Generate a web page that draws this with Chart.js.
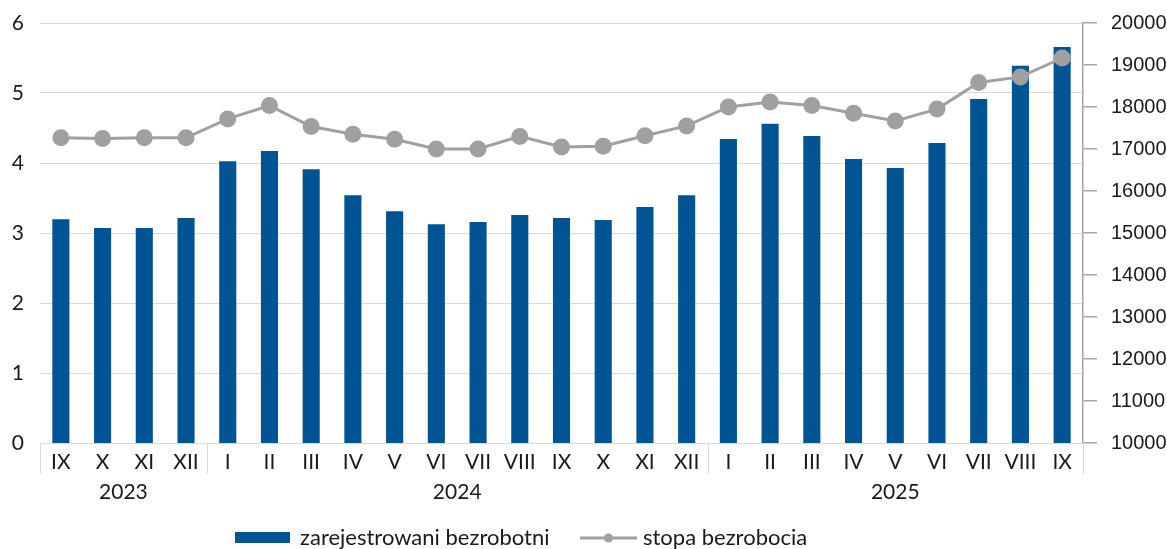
<!DOCTYPE html>
<html><head><meta charset="utf-8">
<script src="https://cdn.jsdelivr.net/npm/chart.js@4/dist/chart.umd.min.js"></script>
<style>html,body{margin:0;padding:0;background:#fff;}</style>
</head><body>
<canvas id="c" width="1167" height="549"></canvas>
<script>
const months = ['IX','X','XI','XII','I','II','III','IV','V','VI','VII','VIII','IX','X','XI','XII','I','II','III','IV','V','VI','VII','VIII','IX'];
const years = ['2023','2023','2023','2023',
  '2024','2024','2024','2024','2024','2024','2024','2024','2024','2024','2024','2024',
  '2025','2025','2025','2025','2025','2025','2025','2025','2025'];
const registered = [15330,15120,15120,15360,16710,16950,16520,15900,15520,15210,15260,15430,15360,15310,15620,15900,17240,17600,17310,16760,16550,17140,18190,18980,19430];
const rate = [4.36,4.35,4.36,4.36,4.63,4.82,4.52,4.41,4.34,4.20,4.20,4.38,4.23,4.24,4.39,4.53,4.80,4.87,4.82,4.71,4.60,4.77,5.15,5.23,5.50];
const leftTicks = [0,1,2,3,4,5,6];
const rightTicks = [10000,11000,12000,13000,14000,15000,16000,17000,18000,19000,20000];
const seriesLabels = ['zarejestrowani bezrobotni','stopa bezrobocia'];

const BLUE = '#005493', GREY = '#a0a0a0', GRID = '#d9d9d9', TXT = '#1a1a1a';
const FONT = 'Lato';

const overlay = {
  id: 'overlay',
  afterDraw(chart) {
    const ctx = chart.ctx, x = chart.scales.x, area = chart.chartArea;
    const px = i => x.getPixelForValue(i);
    const groups = [];
    years.forEach((y, i) => {
      if (!groups.length || groups[groups.length-1].year !== y) groups.push({year: y, start: i, end: i});
      else groups[groups.length-1].end = i;
    });
    ctx.save();
    ctx.strokeStyle = GRID; ctx.lineWidth = 1;
    const bounds = [];
    groups.forEach((g, k) => {
      const left = g.start === 0 ? area.left : (px(g.start-1) + px(g.start)) / 2;
      const right = g.end === years.length-1 ? area.right : (px(g.end) + px(g.end+1)) / 2;
      bounds.push(left); if (k === groups.length-1) bounds.push(right);
      ctx.fillStyle = TXT; ctx.font = '21px ' + FONT; ctx.textAlign = 'center'; ctx.textBaseline = 'middle';
      ctx.fillText(g.year, (left + right) / 2, area.bottom + 49);
    });
    bounds.forEach(b => {
      const xx = Math.round(b) + 0.5;
      ctx.beginPath(); ctx.moveTo(xx, area.bottom); ctx.lineTo(xx, area.bottom + 31); ctx.stroke();
    });
    const ly = 538;
    ctx.fillStyle = BLUE; ctx.fillRect(235, 532, 55, 11);
    ctx.fillStyle = TXT; ctx.font = '22px ' + FONT; ctx.textAlign = 'left'; ctx.textBaseline = 'middle';
    ctx.fillText(seriesLabels[0], 300, ly);
    ctx.strokeStyle = GREY; ctx.lineWidth = 3;
    ctx.beginPath(); ctx.moveTo(580, ly); ctx.lineTo(637, ly); ctx.stroke();
    ctx.fillStyle = GREY; ctx.beginPath(); ctx.arc(608.5, ly, 4.5, 0, Math.PI*2); ctx.fill();
    ctx.fillStyle = TXT;
    ctx.fillText(seriesLabels[1], 643, ly);
    ctx.restore();
  }
};

const fixV = w => s => { s.width = w; s.paddingTop = 0; s.paddingBottom = 0; };

new Chart(document.getElementById('c'), {
  data: {
    labels: months,
    datasets: [
      { type: 'line', label: seriesLabels[1], data: rate, yAxisID: 'y', order: 0,
        borderColor: GREY, borderWidth: 3, pointRadius: 8.5, pointBackgroundColor: GREY,
        pointBorderWidth: 0, tension: 0 },
      { type: 'bar', label: seriesLabels[0], data: registered, yAxisID: 'yR', order: 1,
        backgroundColor: BLUE, barPercentage: 0.41, categoryPercentage: 1.0 }
    ]
  },
  options: {
    responsive: false, animation: false, devicePixelRatio: 1,
    layout: { padding: { top: 23, left: 0, right: 0, bottom: 0 } },
    plugins: { legend: { display: false }, tooltip: { enabled: false } },
    scales: {
      x: {
        offset: true,
        grid: { display: false, drawTicks: false },
        border: { display: false },
        ticks: { color: TXT, font: { family: FONT, size: 21 }, padding: 7, maxRotation: 0, autoSkip: false },
        afterFit: s => { s.height = 106; s.paddingLeft = 0; s.paddingRight = 0; }
      },
      y: {
        position: 'left', min: leftTicks[0], max: leftTicks[leftTicks.length-1],
        afterBuildTicks: s => { s.ticks = leftTicks.map(v => ({ value: v })); },
        grid: { color: GRID, lineWidth: 1, drawTicks: false },
        border: { display: false },
        ticks: { color: TXT, font: { family: FONT, size: 21 }, padding: 16 },
        afterFit: fixV(40)
      },
      yR: {
        position: 'right', min: rightTicks[0], max: rightTicks[rightTicks.length-1],
        afterBuildTicks: s => { s.ticks = rightTicks.map(v => ({ value: v })); },
        grid: { drawOnChartArea: false, color: '#a6a6a6', tickLength: 14, lineWidth: 1.5 },
        border: { display: true, color: '#a6a6a6', width: 1.5 },
        ticks: { color: TXT, font: { family: 'Liberation Sans', size: 20 }, padding: 14,
          callback: v => String(v) },
        afterFit: fixV(84)
      }
    }
  },
  plugins: [overlay]
});
</script>
</body></html>
